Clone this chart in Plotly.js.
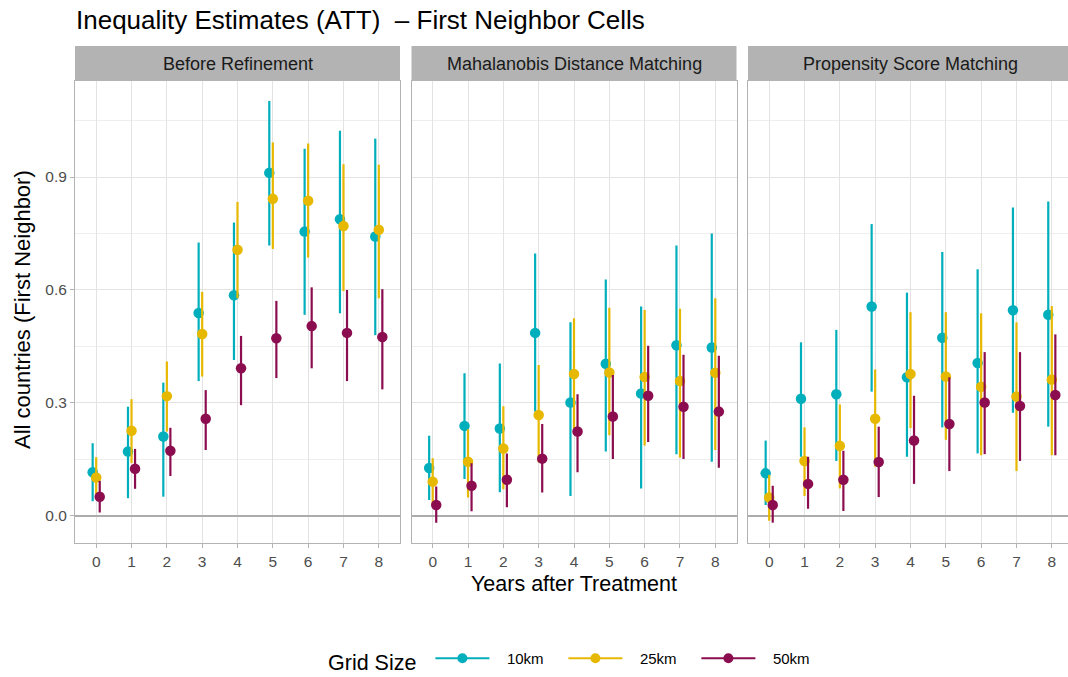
<!DOCTYPE html>
<html>
<head>
<meta charset="utf-8">
<script src="https://cdn.plot.ly/plotly-3.0.1.min.js"></script>
<style>
  html, body { margin: 0; padding: 0; overflow: hidden; background: #ffffff; }
  #chart { width: 1073px; height: 677px; }
</style>
</head>
<body>
<div id="chart"></div>
<script>
// ---------------- DATA ----------------
const years = [0, 1, 2, 3, 4, 5, 6, 7, 8];
const panelTitles = ["Before Refinement", "Mahalanobis Distance Matching", "Propensity Score Matching"];
const seriesNames = ["10km", "25km", "50km"];

// Before Refinement
const before_10_est = [0.116, 0.171, 0.211, 0.539, 0.586, 0.911, 0.755, 0.788, 0.742];
const before_10_lo  = [0.039, 0.047, 0.051, 0.358, 0.414, 0.718, 0.534, 0.538, 0.480];
const before_10_hi  = [0.193, 0.290, 0.354, 0.726, 0.779, 1.102, 0.975, 1.023, 1.002];
const before_25_est = [0.102, 0.226, 0.318, 0.483, 0.707, 0.842, 0.837, 0.770, 0.760];
const before_25_lo  = [0.055, 0.140, 0.224, 0.370, 0.578, 0.709, 0.686, 0.597, 0.578];
const before_25_hi  = [0.156, 0.310, 0.410, 0.595, 0.834, 0.992, 0.989, 0.934, 0.933];
const before_50_est = [0.051, 0.125, 0.173, 0.258, 0.392, 0.472, 0.504, 0.486, 0.475];
const before_50_lo  = [0.009, 0.072, 0.106, 0.175, 0.294, 0.366, 0.392, 0.358, 0.336];
const before_50_hi  = [0.093, 0.178, 0.234, 0.334, 0.478, 0.571, 0.607, 0.600, 0.602];

// Mahalanobis Distance Matching
const maha_10_est = [0.127, 0.239, 0.232, 0.486, 0.301, 0.404, 0.325, 0.453, 0.447];
const maha_10_lo  = [0.042, 0.098, 0.063, 0.277, 0.053, 0.171, 0.073, 0.164, 0.144];
const maha_10_hi  = [0.213, 0.379, 0.405, 0.697, 0.514, 0.628, 0.556, 0.718, 0.750];
const maha_25_est = [0.091, 0.144, 0.179, 0.268, 0.377, 0.381, 0.369, 0.358, 0.380];
const maha_25_lo  = [0.029, 0.049, 0.071, 0.142, 0.230, 0.214, 0.187, 0.155, 0.175];
const maha_25_hi  = [0.153, 0.230, 0.291, 0.401, 0.525, 0.553, 0.547, 0.550, 0.578];
const maha_50_est = [0.029, 0.080, 0.096, 0.152, 0.224, 0.264, 0.319, 0.290, 0.277];
const maha_50_lo  = [-0.018, 0.012, 0.023, 0.062, 0.116, 0.151, 0.196, 0.151, 0.128];
const maha_50_hi  = [0.078, 0.140, 0.166, 0.244, 0.323, 0.374, 0.452, 0.428, 0.425];

// Propensity Score Matching
const prop_10_est = [0.113, 0.311, 0.323, 0.556, 0.368, 0.473, 0.406, 0.546, 0.534];
const prop_10_lo  = [0.029, 0.157, 0.146, 0.330, 0.157, 0.235, 0.166, 0.274, 0.237];
const prop_10_hi  = [0.200, 0.461, 0.494, 0.775, 0.593, 0.701, 0.655, 0.819, 0.835];
const prop_25_est = [0.049, 0.146, 0.186, 0.258, 0.377, 0.370, 0.343, 0.317, 0.362];
const prop_25_lo  = [-0.013, 0.053, 0.073, 0.131, 0.233, 0.202, 0.161, 0.119, 0.161];
const prop_25_hi  = [0.109, 0.235, 0.296, 0.389, 0.541, 0.541, 0.538, 0.514, 0.557];
const prop_50_est = [0.029, 0.085, 0.096, 0.143, 0.200, 0.244, 0.301, 0.292, 0.321];
const prop_50_lo  = [-0.018, 0.019, 0.013, 0.050, 0.085, 0.119, 0.164, 0.146, 0.161];
const prop_50_hi  = [0.080, 0.157, 0.173, 0.237, 0.319, 0.368, 0.435, 0.435, 0.482];

const yTickVals = [0.0, 0.3, 0.6, 0.9];
const yTickText = ["0.0", "0.3", "0.6", "0.9"];

// ---------------- STYLE ----------------
const colors = ["#00AFBB", "#E7B800", "#8C0D4F"];
const dodge = [-0.1, 0, 0.1];
const FONT = "Liberation Sans, Arial, Helvetica, sans-serif";

const panels = [
  [[before_10_est, before_10_lo, before_10_hi], [before_25_est, before_25_lo, before_25_hi], [before_50_est, before_50_lo, before_50_hi]],
  [[maha_10_est, maha_10_lo, maha_10_hi], [maha_25_est, maha_25_lo, maha_25_hi], [maha_50_est, maha_50_lo, maha_50_hi]],
  [[prop_10_est, prop_10_lo, prop_10_hi], [prop_25_est, prop_25_lo, prop_25_hi], [prop_50_est, prop_50_lo, prop_50_hi]]
];

const traces = [];
panels.forEach((panel, p) => {
  const xa = p === 0 ? "x" : "x" + (p + 1);
  const ya = p === 0 ? "y" : "y" + (p + 1);
  panel.forEach((s, k) => {
    const [est, lo, hi] = s;
    traces.push({
      type: "scatter",
      mode: "markers",
      x: years.map(v => v + dodge[k]),
      y: est,
      xaxis: xa, yaxis: ya,
      name: seriesNames[k],
      legendgroup: seriesNames[k],
      showlegend: false,
      marker: { color: colors[k], size: 10.5, line: { width: 0 } },
      error_y: {
        type: "data", symmetric: false,
        array: est.map((v, i) => hi[i] - v),
        arrayminus: est.map((v, i) => v - lo[i]),
        color: colors[k], thickness: 2.2, width: 0
      },
      hoverinfo: "x+y+name"
    });
  });
});
// legend entries (leading no-break spaces widen the gap between key and label)
seriesNames.forEach((n, k) => {
  traces.push({
    type: "scatter", mode: "lines+markers",
    x: [null], y: [null], xaxis: "x", yaxis: "y",
    name: "\u00a0\u00a0\u00a0" + n, legendgroup: n, showlegend: true,
    line: { color: colors[k], width: 2 },
    marker: { color: colors[k], size: 10 }
  });
});

// geometry (pixels)
const W = 1073, H = 677;
const mL = 75, mR = 0, mT = 81, mB = 134;
const plotW = W - mL - mR;
const plotH = H - mT - mB;
const panelW = 325, gap = 11.5;
const domains = [0, 1, 2].map(i => [(i * (panelW + gap)) / plotW, Math.min(1, (i * (panelW + gap) + panelW) / plotW)]);

const gridCol = "#e3e3e3";
const axisBase = {
  showgrid: true, gridcolor: gridCol, gridwidth: 1,
  showline: true, mirror: true, linecolor: "#b3b3b3", linewidth: 1,
  ticks: "outside", ticklen: 4, tickcolor: "#b3b3b3", tickwidth: 1,
  tickfont: { family: FONT, size: 15.5, color: "#4d4d4d" },
  zeroline: false, fixedrange: true
};

const layout = {
  width: W, height: H,
  margin: { l: mL, r: mR, t: mT, b: mB, pad: 0, autoexpand: false },
  paper_bgcolor: "#ffffff", plot_bgcolor: "#ffffff",
  font: { family: FONT, color: "#000000" },
  title: {
    text: "Inequality Estimates (ATT)  \u2013 First Neighbor Cells",
    x: 76 / W, xref: "container", xanchor: "left",
    y: 1 - 20 / H, yref: "container", yanchor: "middle",
    font: { family: FONT, size: 26, color: "#000000" }
  },
  showlegend: true,
  legend: {
    orientation: "h", x: (326 - mL) / plotW, xanchor: "left",
    y: (mT + plotH - 661) / plotH, yanchor: "middle",
    title: { text: "Grid Size ", side: "left", font: { family: FONT, size: 21.5, color: "#000000" } },
    font: { family: FONT, size: 15, color: "#000000" },
    bgcolor: "rgba(0,0,0,0)", itemwidth: 54, borderwidth: 0,
    entrywidth: 64, entrywidthmode: "pixels"
  },
  shapes: [],
  annotations: []
};

[0, 1, 2].forEach(i => {
  const xk = i === 0 ? "xaxis" : "xaxis" + (i + 1);
  const yk = i === 0 ? "yaxis" : "yaxis" + (i + 1);
  const yref = i === 0 ? "y" : "y" + (i + 1);
  const xref = i === 0 ? "x" : "x" + (i + 1);
  layout[xk] = Object.assign({}, axisBase, {
    domain: domains[i], anchor: yref, range: [-0.6, 8.6],
    tickvals: years, ticktext: years.map(String)
  });
  layout[yk] = Object.assign({}, axisBase, {
    domain: [0, 1], anchor: xref, range: [-0.072, 1.155],
    tickvals: yTickVals, ticktext: yTickText,
    showticklabels: i === 0,
    ticks: i === 0 ? "outside" : "",
    zeroline: true, zerolinecolor: "#acacac", zerolinewidth: 1.6,
    minor: { tickvals: [0.15, 0.45, 0.75, 1.05], showgrid: true, gridcolor: "#eeeeee", gridwidth: 0.6, ticks: "" }
  });
  // strip
  layout.shapes.push({
    type: "rect", xref: xref + " domain", yref: yref + " domain",
    x0: 0, x1: 1, y0: 1, y1: 1 + 35 / plotH,
    fillcolor: "#b3b3b3", line: { width: 0 }, layer: "above"
  });
  layout.annotations.push({
    text: panelTitles[i], xref: xref + " domain", yref: yref + " domain",
    x: 0.5, y: 1 + 17.5 / plotH, xanchor: "center", yanchor: "middle",
    showarrow: false, font: { family: FONT, size: 18, color: "#1a1a1a" }
  });
});

// axis titles
layout.annotations.push({
  text: "Years after Treatment", xref: "paper", yref: "paper",
  x: (574 - mL) / plotW, y: (mT + plotH - 584) / plotH,
  xanchor: "center", yanchor: "middle", showarrow: false,
  font: { family: FONT, size: 21.5, color: "#000000" }
});
layout.annotations.push({
  text: "All countries (First Neighbor)", xref: "paper", yref: "paper",
  x: (22 - mL) / plotW, y: (mT + plotH - 310) / plotH,
  xanchor: "center", yanchor: "middle", textangle: -90, showarrow: false,
  font: { family: FONT, size: 22, color: "#000000" }
});

Plotly.newPlot("chart", traces, layout, { displayModeBar: false, staticPlot: false });
</script>
</body>
</html>
